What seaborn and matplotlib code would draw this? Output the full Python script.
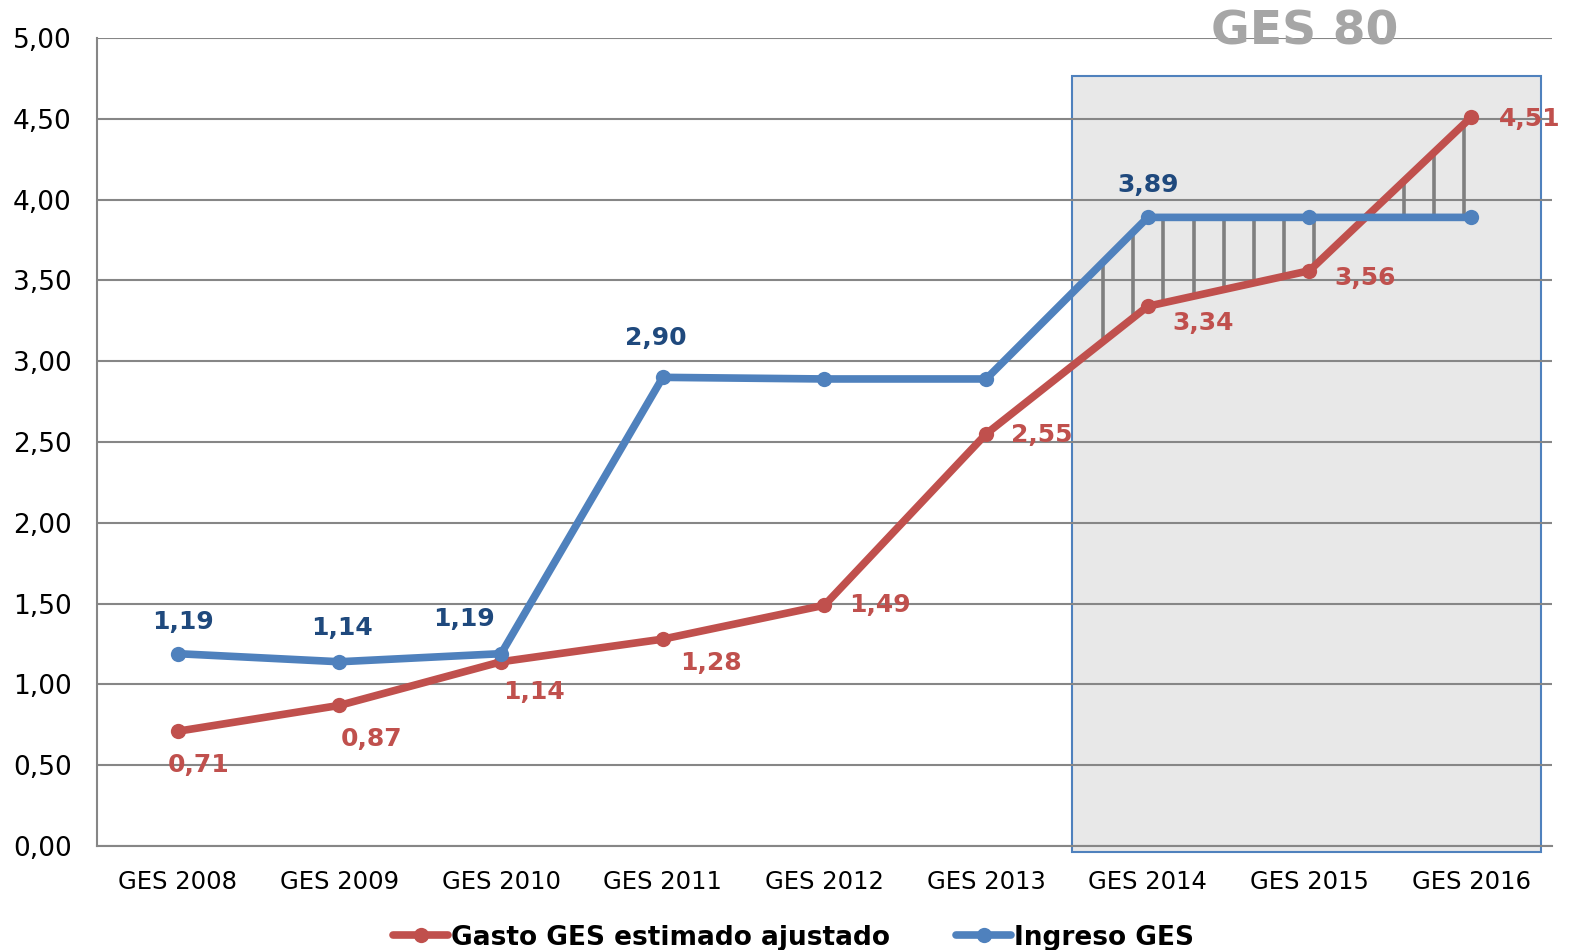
import numpy as np
import pandas as pd
import seaborn as sns
import matplotlib.pyplot as plt
from matplotlib.patches import Rectangle

categories = ["GES 2008", "GES 2009", "GES 2010", "GES 2011", "GES 2012",
              "GES 2013", "GES 2014", "GES 2015", "GES 2016"]
gasto = [0.71, 0.87, 1.14, 1.28, 1.49, 2.55, 3.34, 3.56, 4.51]
ingreso = [1.19, 1.14, 1.19, 2.90, 2.89, 2.89, 3.89, 3.89, 3.89]
# which blue points carry a label
ingreso_labeled = [True, True, True, True, False, False, True, False, False]

RED = "#C0504D"
BLUE = "#4F81BD"
DARK_BLUE = "#1F497D"
GRID = "#868686"

df = pd.DataFrame({
    "pos": list(range(len(categories))) * 2,
    "valor": gasto + ingreso,
    "serie": ["Gasto GES estimado ajustado"] * len(gasto) + ["Ingreso GES"] * len(ingreso),
})

sns.set_style("white")
plt.rcParams["font.family"] = ["DejaVu Sans"]

fig, ax = plt.subplots(figsize=(15.71, 9.5), dpi=100)
fig.subplots_adjust(left=0.0617, right=0.9879, top=0.96, bottom=0.1095)

sns.lineplot(data=df, x="pos", y="valor", hue="serie", palette=[RED, BLUE],
             marker="o", markersize=11, markeredgewidth=0, linewidth=5.5,
             sort=False, ax=ax, zorder=4)

ax.set_xlim(-0.5, 8.5)
ax.set_ylim(0, 5)

# GES 80 shaded box
ax.add_patch(Rectangle((5.53, -0.037), 2.9, 4.8, facecolor="#E8E8E8",
                       edgecolor=BLUE, linewidth=1.5, zorder=0.2, clip_on=False))
ax.text(6.97, 5.04, "GES 80", fontsize=34, fontweight="bold", color="#A6A6A6",
        ha="center", va="center", zorder=5, clip_on=False)

# vertical hatching between the two lines
pos = np.arange(len(categories))
hx = np.arange(5.725, 8.0, 0.186)
top = np.interp(hx, pos, ingreso)
bot = np.interp(hx, pos, gasto)
keep = np.abs(top - bot) > 0.15
ax.vlines(hx[keep], bot[keep], top[keep], color="#7F7F7F", linewidth=2.6, zorder=3)

# grid and axes styling
ax.set_yticks(np.arange(0, 5.01, 0.5))
ax.set_yticklabels([f"{v:.2f}".replace(".", ",") for v in np.arange(0, 5.01, 0.5)],
                   fontsize=19, color="black")
ax.yaxis.grid(True, color=GRID, linewidth=1.5)
ax.set_axisbelow(True)
ax.set_xticks(np.arange(-0.5, 8.6, 1.0))
ax.set_xticklabels([])
ax.set_xticks(pos, minor=True)
ax.set_xticklabels(categories, minor=True, fontsize=17.5, color="black")
ax.tick_params(axis="x", which="major", direction="out", length=7, width=1.5, color=GRID)
ax.tick_params(axis="x", which="minor", length=0, pad=17)
ax.tick_params(axis="y", direction="out", length=8, width=1.5, color=GRID, pad=10)
for s in ["top", "right"]:
    ax.spines[s].set_visible(False)
for s in ["left", "bottom"]:
    ax.spines[s].set_color(GRID)
    ax.spines[s].set_linewidth(1.5)
ax.set_xlabel("")
ax.set_ylabel("")

# data labels (offsets in points)
red_off = [(15, -24), (23, -24), (24, -22), (35, -17), (40, 0), (40, -1),
           (40, -12), (40, -5), (42, -1)]
blue_off = [(4, 23), (2, 24), (-27, 25), (-5, 28), (0, 0), (0, 0), (0, 23), (0, 0), (0, 0)]
for i, v in enumerate(gasto):
    ax.annotate(f"{v:.2f}".replace(".", ","), (i, v), xytext=red_off[i],
                textcoords="offset points", ha="center", va="center",
                fontsize=18, fontweight="bold", color=RED, zorder=6,
                annotation_clip=False)
for i, v in enumerate(ingreso):
    if ingreso_labeled[i]:
        ax.annotate(f"{v:.2f}".replace(".", ","), (i, v), xytext=blue_off[i],
                    textcoords="offset points", ha="center", va="center",
                    fontsize=18, fontweight="bold", color=DARK_BLUE, zorder=6)

handles, labels = ax.get_legend_handles_labels()
leg = ax.legend(handles, labels, loc="center", bbox_to_anchor=(0.505, 0.013),
                bbox_transform=fig.transFigure, ncol=2, frameon=False,
                prop={"weight": "bold", "size": 19}, handlelength=2.1,
                handletextpad=0.1, columnspacing=2.5)
for t in leg.get_texts():
    t.set_color("black")

fig.savefig("out.png", dpi=100)
